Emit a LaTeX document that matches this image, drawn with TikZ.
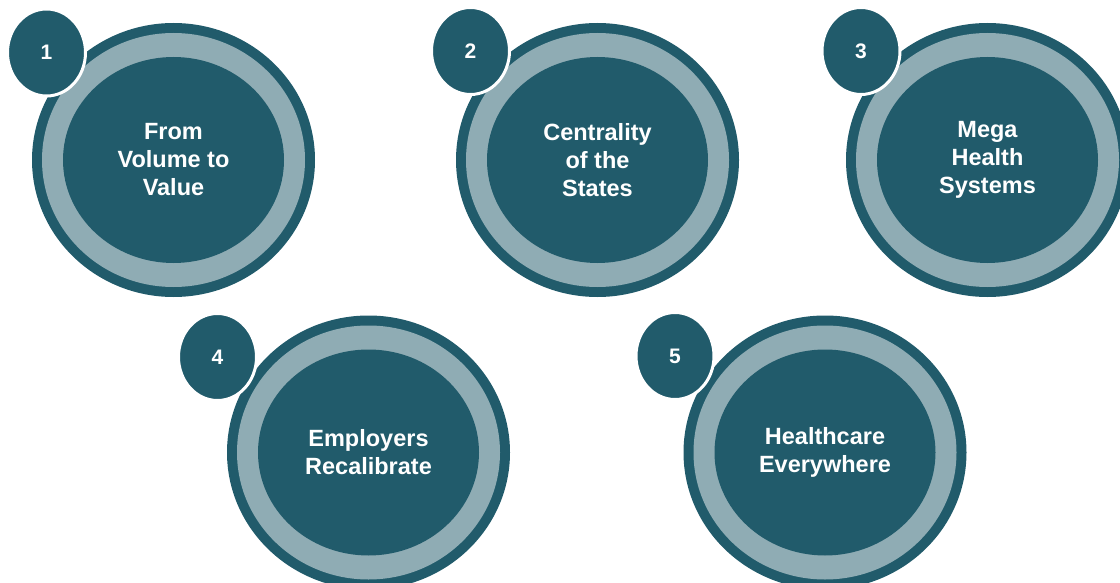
\documentclass[tikz,border=0pt]{standalone}
\usepackage{fontspec}
\setmainfont{Liberation Sans}
\usetikzlibrary{shapes.geometric}
\definecolor{tealdark}{HTML}{215B6B}
\definecolor{teallight}{HTML}{8FACB4}
\tikzset{
  outerring/.style={ellipse, inner sep=0pt, fill=tealdark, minimum width=283pt, minimum height=274pt},
  midring/.style={ellipse, inner sep=0pt, fill=teallight, minimum width=263pt, minimum height=254pt},
  core/.style={ellipse, inner sep=0pt, fill=tealdark, minimum width=221pt, minimum height=206pt,
    text=white, align=center, font=\fontsize{23.5}{28}\selectfont\bfseries},
  badge/.style={ellipse, inner sep=0pt, fill=tealdark, draw=white, line width=3pt,
    minimum width=78pt, minimum height=87pt, text=white, font=\fontsize{21}{24}\selectfont\bfseries}
}
\begin{document}
\begin{tikzpicture}[x=1pt,y=-1pt]
\useasboundingbox (0,0) rectangle (1120,583);
\begin{scope}
\clip (0,0) rectangle (1120,583);
% circle 1
\node[outerring] (o1) at (173.5,160) {};
\node[midring] (m1) at (o1) {};
\node[core] (c1) at (o1) {From\\Volume to\\Value};
\node[badge] (b1) at (46.5,52.5) {1};
% circle 2
\node[outerring] (o2) at (597.5,160) {};
\node[midring] (m2) at (o2) {};
\node[core] (c2) at (o2) {Centrality\\of the\\States};
\node[badge] (b2) at (470.5,51) {2};
% circle 3
\node[outerring] (o3) at (987.5,160) {};
\node[midring] (m3) at (o3) {};
\node[core] (c3) at (o3) {Mega\\Health\\Systems};
\node[badge] (b3) at (861,51) {3};
% circle 4
\node[outerring] (o4) at (368.5,452.5) {};
\node[midring] (m4) at (o4) {};
\node[core] (c4) at (o4) {Employers\\Recalibrate};
\node[badge] (b4) at (217.5,357) {4};
% circle 5
\node[outerring] (o5) at (825,452.5) {};
\node[midring] (m5) at (o5) {};
\node[core] (c5) at (o5) {Healthcare\\Everywhere};
\node[badge] (b5) at (675,356) {5};
\end{scope}
\end{tikzpicture}
\end{document}
